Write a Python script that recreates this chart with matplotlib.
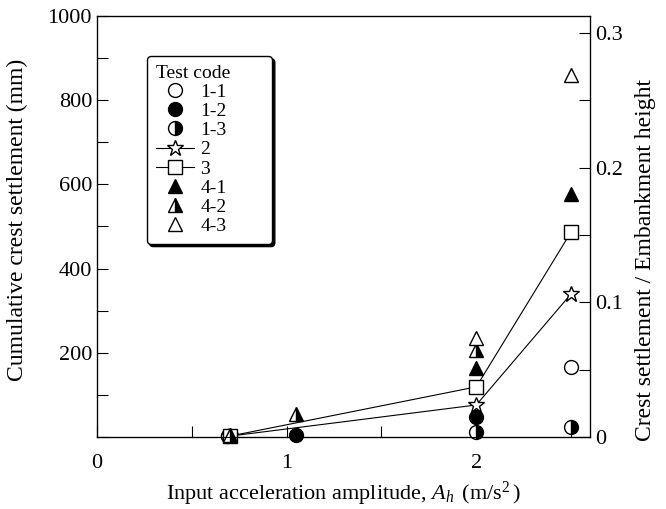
import matplotlib
matplotlib.use("Agg")
import matplotlib.pyplot as plt
from matplotlib.ticker import MultipleLocator

plt.rcParams['font.family'] = ['Liberation Serif', 'DejaVu Serif']
plt.rcParams['mathtext.fontset'] = 'custom'
plt.rcParams['mathtext.rm'] = 'Liberation Serif'
plt.rcParams['mathtext.it'] = 'Liberation Serif:italic'

# settlement data (mm) per test code
x_1_1 = [0.69, 2.5]
y_1_1 = [2, 166]
x_1_2 = [1.05, 2.0]
y_1_2 = [5, 48]
x_1_3 = [0.69, 2.0, 2.5]
y_1_3 = [2, 12, 24]
x_2 = [0.7, 2.0, 2.5]
y_2 = [2, 76, 340]
x_3 = [0.7, 2.0, 2.5]
y_3 = [2, 119, 487]
x_4_1 = [2.0, 2.5]
y_4_1 = [164, 578]
x_4_2 = [0.7, 1.05, 2.0]
y_4_2 = [4, 55, 207]
x_4_3 = [2.0, 2.5]
y_4_3 = [235, 860]

EMB_HEIGHT = 3200.0  # mm, scale of right axis

fig = plt.figure(figsize=(6.66, 5.09), dpi=100)
ax = fig.add_axes([0.1456, 0.1415, 0.7404, 0.8271])

ms = 10
kw = dict(color='k', clip_on=False, zorder=5, markeredgewidth=1.0)
ax.plot(x_1_1, y_1_1, ls='none', marker='o', mfc='white', ms=ms, label='1-1', **kw)
ax.plot(x_1_2, y_1_2, ls='none', marker='o', mfc='k', ms=ms, label='1-2', **kw)
ax.plot(x_1_3, y_1_3, ls='none', marker='o', fillstyle='right', mfc='k',
        mfcalt='white', ms=ms, label='1-3', **kw)
ax.plot(x_2, y_2, ls='-', lw=0.8, marker='*', mfc='white', ms=ms + 2, label='2', **kw)
ax.plot(x_3, y_3, ls='-', lw=0.8, marker='s', mfc='white', ms=ms, label='3', **kw)
ax.plot(x_4_1, y_4_1, ls='none', marker='^', mfc='k', ms=ms, label='4-1', **kw)
ax.plot(x_4_2, y_4_2, ls='none', marker='^', fillstyle='right', mfc='k',
        mfcalt='white', ms=ms, label='4-2', **kw)
ax.plot(x_4_3, y_4_3, ls='none', marker='^', mfc='white', ms=ms, label='4-3', **kw)

ax.set_xlim(0, 2.6)
ax.set_ylim(0, 1000)
ax.xaxis.set_major_locator(MultipleLocator(1))
ax.xaxis.set_minor_locator(MultipleLocator(0.5))
ax.yaxis.set_minor_locator(MultipleLocator(100))
ax.set_yticks([200, 400, 600, 800, 1000])
ax.tick_params(which='both', direction='in', length=8, width=0.8, labelsize=16, top=False)
ax.tick_params(axis='x', pad=12)
for s in ax.spines.values():
    s.set_linewidth(0.9)

ax.set_xlabel(r'Input acceleration amplitude, $A_h\,$ (m/s$^2\,$)', fontsize=16, labelpad=5)
ax.set_ylabel('Cumulative crest settlement (mm)', fontsize=17)
ax.yaxis.set_label_coords(-0.14, 0.515)

ax2 = ax.twinx()
ax2.set_ylim(0, 1000 / EMB_HEIGHT)
ax2.yaxis.set_minor_locator(MultipleLocator(0.05))
ax2.set_yticks([0, 0.1, 0.2, 0.3])
ax2.set_yticklabels(['0', '0.1', '0.2', '0.3'])
ax2.tick_params(which='both', direction='in', length=8, width=0.8, labelsize=16)
ax2.set_ylabel('Crest settlement / Embankment height', fontsize=17)
ax2.yaxis.set_label_coords(1.091, 0.42)

leg = ax.legend(loc='upper left', bbox_to_anchor=(0.101, 0.0, 0.254, 0.905),
                mode='expand', borderaxespad=0, title='Test code',
                fontsize=14, title_fontsize=14, frameon=True, fancybox=True,
                shadow={'color': 'k', 'alpha': 1.0}, edgecolor='k',
                labelspacing=0.08, handlelength=2.0, handletextpad=0.3,
                borderpad=0.45, alignment='left')
leg.get_frame().set_linewidth(1.0)

fig.savefig('out.png', dpi=100)
